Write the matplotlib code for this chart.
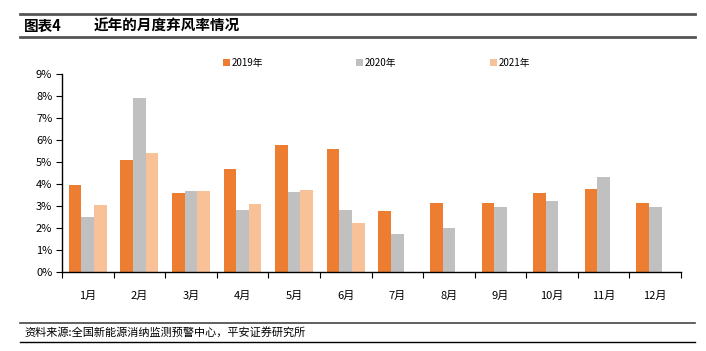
import matplotlib
matplotlib.use("Agg")
import matplotlib.pyplot as plt
import numpy as np

plt.rcParams['font.family'] = ['Noto Sans CJK SC', 'DejaVu Sans']

months = ['1月', '2月', '3月', '4月', '5月', '6月', '7月', '8月', '9月', '10月', '11月', '12月']
series_names = ['2019年', '2020年', '2021年']
v2019 = [3.95, 5.08, 3.58, 4.67, 5.78, 5.57, 2.75, 3.14, 3.14, 3.58, 3.75, 3.14]
v2020 = [2.47, 7.92, 3.69, 2.81, 3.63, 2.81, 1.71, 1.99, 2.93, 3.20, 4.29, 2.93]
v2021 = [3.02, 5.39, 3.69, 3.08, 3.70, 2.20]
colors = ['#ED7D31', '#C0C0C0', '#F8C197']
yticks = [0, 1, 2, 3, 4, 5, 6, 7, 8, 9]

fig = plt.figure(figsize=(7.06, 3.51), dpi=100)
W, H = 706, 351
ax = fig.add_axes([62 / W, 1 - 271.7 / H, (681 - 62) / W, (271.7 - 74) / H])

x = np.arange(len(months))
bw = 0.245
for i, (vals, c, name) in enumerate(zip([v2019, v2020, v2021], colors, series_names)):
    xs = x[:len(vals)] + (i - 1) * bw
    ax.bar(xs, vals, width=bw, color=c, edgecolor='none', label=name, zorder=2)

ax.set_xlim(-0.5, 11.5)
ax.set_ylim(0, 9)
ax.set_yticks(yticks)
ax.set_yticklabels([f'{t}%' for t in yticks], fontsize=8)
ax.set_xticks(np.arange(-0.5, 12, 1))
ax.set_xticklabels([])
ax.set_xticks(x, minor=True)
ax.set_xticklabels(months, minor=True, fontsize=8)
ax.tick_params(axis='x', which='major', direction='out', length=4, width=0.8, color='black')
ax.tick_params(axis='x', which='minor', length=0, pad=14)
ax.tick_params(axis='y', direction='out', length=4, width=0.8, pad=3)
for s in ['top', 'right']:
    ax.spines[s].set_visible(False)
for s in ['left', 'bottom']:
    ax.spines[s].set_linewidth(1.0)
    ax.spines[s].set_color('black')

leg = fig.legend(loc='center left', bbox_to_anchor=(216 / W, 1 - 63 / H), ncol=3, frameon=False,
                 fontsize=7, handlelength=0.7, handleheight=0.7, handletextpad=0.2,
                 columnspacing=9.6, borderpad=0.2)

# Header
fig.add_artist(plt.Line2D([20 / W, 695 / W], [1 - 14 / H, 1 - 14 / H], color='#555555', lw=2.0))
fig.add_artist(plt.Line2D([20 / W, 695 / W], [1 - 37 / H, 1 - 37 / H], color='#555555', lw=2.0))
fig.text(24 / W, 1 - 25.5 / H, '图表4', fontsize=10.5, fontweight='bold', va='center', ha='left')
fig.text(94 / W, 1 - 25.5 / H, '近年的月度弃风率情况', fontsize=10.5, fontweight='bold', va='center', ha='left')

# Footer
fig.add_artist(plt.Line2D([20 / W, 695 / W], [1 - 323 / H, 1 - 323 / H], color='#444444', lw=1.2))
fig.add_artist(plt.Line2D([20 / W, 695 / W], [1 - 342 / H, 1 - 342 / H], color='black', lw=1.0))
fig.text(24 / W, 1 - 332 / H, '资料来源:全国新能源消纳监测预警中心，平安证券研究所', fontsize=8,
         style='italic', va='center', ha='left')

fig.savefig('out.png', dpi=100)
